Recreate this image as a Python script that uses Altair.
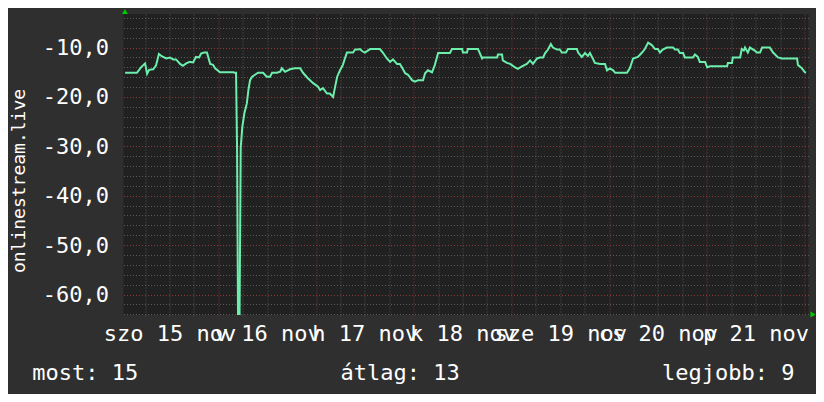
import altair as alt
import pandas as pd

# hours since 2025-11-15 00:00
HOURS = [1.1, 4.0, 5.0, 6.0, 6.5, 7.0, 8.0, 8.7, 9.4, 10.2, 11.2, 12.1, 12.9, 13.6, 14.6, 15.3,
         16.1, 17.0, 17.8, 18.5, 19.3, 19.75, 20.5, 21.2, 22.0, 22.7, 23.2, 24.4, 27.6, 28.1,
         28.35, 28.6, 28.85, 29.2, 29.5, 29.9, 30.4, 31.0, 31.4, 31.8, 32.3, 33.0, 33.75, 35.0,
         35.9, 36.7, 37.2, 38.4, 39.2, 39.6, 40.4, 41.6, 42.8, 44.1, 44.8, 46.0, 47.3, 48.5,
         49.0, 49.7, 50.7, 51.4, 52.2, 52.7, 53.2, 53.9, 54.6, 55.1, 55.6, 57.1, 57.6, 58.3,
         58.8, 59.3, 60.0, 61.3, 63.7, 64.5, 65.4, 66.2, 66.9, 67.9, 68.6, 69.1, 69.9, 70.6,
         71.6, 72.3, 73.1, 74.3, 74.8, 75.5, 76.5, 77.2, 78.0, 80.9, 81.4, 83.9, 84.1, 85.1,
         85.3, 87.8, 88.8, 89.0, 92.5, 92.7, 93.7, 93.9, 94.9, 95.7, 96.9, 97.6, 98.6, 99.8,
         100.6, 101.3, 102.3, 103.0, 103.8, 104.3, 105.0, 105.7, 106.2, 107.2, 107.9, 108.4,
         109.4, 109.9, 112.1, 112.4, 113.3, 114.1, 114.8, 115.3, 116.0, 116.5, 117.8, 119.0,
         119.5, 120.2, 121.0, 121.5, 124.4, 125.1, 125.9, 127.1, 128.1, 128.8, 129.6, 130.5,
         131.3, 132.0, 132.5, 133.2, 134.2, 135.7, 136.2, 136.9, 137.4, 138.2, 138.6, 140.6,
         141.1, 141.8, 142.3, 143.6, 144.1, 144.8, 149.0, 149.2, 150.2, 150.4, 152.2, 152.6,
         153.1, 153.4, 154.1, 154.6, 155.8, 156.3, 157.1, 157.6, 159.5, 160.3, 161.5, 162.5,
         166.2, 166.4, 167.4, 168.1, 168.4]
VALUES = [-15.1, -15.1, -14.0, -13.2, -15.3, -14.5, -14.4, -13.6, -11.3, -11.8, -12.2, -12.0,
          -12.4, -12.4, -13.3, -13.7, -13.2, -12.9, -13.0, -11.9, -12.0, -11.2, -11.0, -11.0,
          -13.3, -13.5, -14.2, -15.0, -15.0, -15.1, -15.1, -30.4, -66.0, -66.0, -30.2, -26.0,
          -23.3, -21.3, -18.5, -16.6, -15.9, -15.5, -15.1, -15.1, -15.9, -15.9, -15.1, -15.1,
          -14.9, -14.2, -14.9, -14.4, -14.2, -14.2, -15.1, -16.2, -17.2, -17.9, -18.6, -18.2,
          -19.3, -19.3, -20.0, -17.9, -15.9, -14.6, -13.5, -12.2, -11.0, -11.0, -10.4, -10.4,
          -10.3, -10.7, -11.0, -10.3, -10.3, -11.1, -12.2, -12.9, -12.4, -13.3, -13.3, -14.0,
          -15.2, -15.5, -16.6, -16.9, -16.6, -16.6, -15.2, -14.6, -15.0, -13.5, -11.1, -11.1,
          -10.3, -10.3, -11.0, -11.0, -10.3, -10.3, -12.2, -12.0, -12.0, -11.4, -11.4, -12.6,
          -13.1, -13.3, -14.0, -14.3, -13.8, -13.3, -12.6, -13.3, -12.2, -12.0, -12.0, -11.1,
          -10.4, -9.3, -10.0, -10.4, -10.4, -11.0, -11.0, -10.3, -10.3, -11.0, -11.9, -11.1,
          -11.7, -11.1, -12.2, -13.1, -13.3, -13.3, -14.6, -14.2, -14.6, -15.1, -15.1, -14.2,
          -12.2, -11.9, -11.0, -10.3, -9.0, -9.5, -10.3, -10.3, -11.0, -10.4, -10.0, -10.0,
          -10.4, -10.4, -11.1, -11.1, -12.0, -12.0, -11.4, -11.9, -12.9, -12.9, -14.0, -13.8,
          -13.8, -13.1, -13.1, -12.0, -12.0, -10.3, -10.6, -10.0, -11.0, -10.0, -10.6, -11.0,
          -11.0, -10.0, -10.0, -11.0, -12.0, -12.2, -12.2, -13.5, -14.2, -15.0, -15.1]

DAY_LABELS = ["szo 15 nov", "v 16 nov", "h 17 nov", "k 18 nov", "sze 19 nov", "cs 20 nov", "p 21 nov"]
Y_TICKS = [-60, -50, -40, -30, -20, -10]
SERIES_NAME = "onlinestream.live"
SUMMARY = [("most", 15), ("átlag", 13), ("legjobb", 9)]

X_DOMAIN = [0.7, 169.0]
Y_DOMAIN = [-64.15, -3.2]

FONT = "DejaVu Sans Mono"
LINE_COLOR = "#6cefac"
MINOR_GRID = "#5a5a5a"
MAJOR_GRID = "#8a3a3a"

df = pd.DataFrame({"hour": HOURS, "value": VALUES})

xs = alt.Scale(domain=X_DOMAIN, nice=False, zero=False)
ys = alt.Scale(domain=Y_DOMAIN, nice=False, zero=False)

x_minor_vals = [h for h in range(6, 169, 6) if h % 24]
x_major_vals = list(range(24, 169, 24))
x_label_vals = [12 + 24 * i for i in range(len(DAY_LABELS))]
y_minor_vals = [v for v in range(-64, -3, 2) if v % 10]

def grid_axis(orient, values, color):
    return alt.Axis(orient=orient, values=values, grid=True, gridColor=color, gridDash=[1, 2],
                    gridWidth=1, labels=False, ticks=False, domain=False, title=None)

base = alt.Chart(df)

minor = base.mark_line(opacity=0).encode(
    x=alt.X("hour:Q", scale=xs, axis=grid_axis("bottom", x_minor_vals, MINOR_GRID)),
    y=alt.Y("value:Q", scale=ys, axis=grid_axis("left", y_minor_vals, MINOR_GRID)),
)
major = base.mark_line(opacity=0).encode(
    x=alt.X("hour:Q", scale=xs, axis=grid_axis("bottom", x_major_vals, MAJOR_GRID)),
    y=alt.Y("value:Q", scale=ys, axis=grid_axis("left", Y_TICKS, MAJOR_GRID)),
)

label_expr = "[" + ",".join("'" + l + "'" for l in DAY_LABELS) + "][floor(datum.value / 24)]"

line = base.mark_line(color=LINE_COLOR, strokeWidth=2, clip=True).encode(
    x=alt.X("hour:Q", scale=xs, axis=alt.Axis(
        orient="bottom", values=x_label_vals, labelExpr=label_expr, grid=False, ticks=False,
        tickSize=0, domain=False, labelOverlap=False, labelFlush=False, labelAlign="center",
        labelBaseline="alphabetic", labelPadding=25, labelFont=FONT, labelFontSize=22,
        labelColor="#ffffff", title=None)),
    y=alt.Y("value:Q", scale=ys, axis=alt.Axis(
        orient="left", values=Y_TICKS, labelExpr="datum.value + ',0'", grid=False, ticks=False,
        tickSize=0, domain=False, labelOverlap=False, labelFlush=False, labelPadding=15,
        labelBaseline="middle", labelFont=FONT, labelFontSize=22, labelColor="#ffffff",
        title=SERIES_NAME, titleFont=FONT, titleFontSize=18, titleFontWeight="normal",
        titleColor="#ffffff", titleAngle=270, titleX=-99, titleY=166.5,
        titleAlign="center", titleBaseline="alphabetic")),
)

one = pd.DataFrame({"k": [0]})
summary_x = [-91.3, 217.1, 538.5]
texts = []
for (name, val), sx in zip(SUMMARY, summary_x):
    texts.append(alt.Chart(one).mark_text(
        align="left", baseline="alphabetic", font=FONT, fontSize=22, color="#ffffff",
        text=f"{name}: {val}").encode(x=alt.value(sx), y=alt.value(366)))

arrow_up = alt.Chart(one).mark_point(shape="triangle-up", filled=True, size=35, color="#00cc00",
                                     opacity=1, clip=False).encode(x=alt.value(1.5), y=alt.value(-2.5))
arrow_right = alt.Chart(one).mark_point(shape="triangle-right", filled=True, size=35, color="#00cc00",
                                        opacity=1, clip=False).encode(x=alt.value(689.5), y=alt.value(300.5))

chart = alt.layer(minor, major, line, *texts, arrow_up, arrow_right).resolve_scale(
    x="independent", y="independent").resolve_axis(x="independent", y="independent").properties(
    width=685, height=301,
    autosize=alt.AutoSizeParams(type="none"),
    padding={"left": 115.5, "top": 6, "right": 7.5, "bottom": 79},
    background="#2f2f2f",
).configure_view(fill="#212121", stroke=None)

chart.save("out.html", embed_options={"renderer": "svg", "actions": False})
